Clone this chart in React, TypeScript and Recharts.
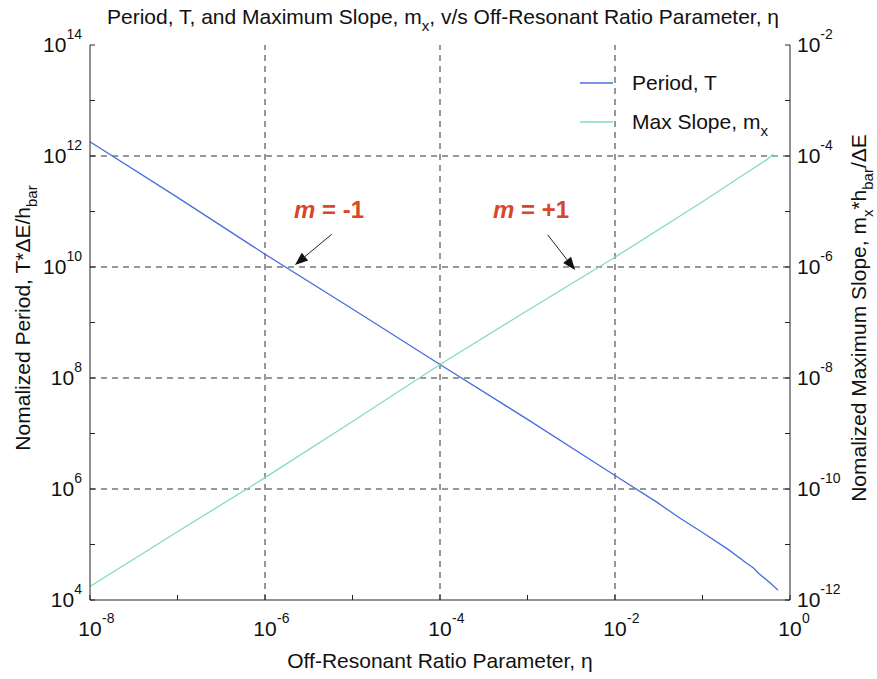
import { LineChart, Line, XAxis, YAxis, ReferenceLine, ReferenceDot } from "recharts";

const FONT = "'Liberation Sans', Arial, Helvetica, sans-serif";
const AXIS = "#222";
const BLUE = "#4a6ee0";
const GREEN = "#80dcc2";
const RED = "#d9472a";

// decade ticks on each axis; labels only on every other decade
const xTicks = [1e-8, 1e-7, 1e-6, 1e-5, 1e-4, 1e-3, 1e-2, 1e-1, 1];
const xLabels = [1e-8, 1e-6, 1e-4, 1e-2, 1];
const leftTicks = [1e4, 1e5, 1e6, 1e7, 1e8, 1e9, 1e10, 1e11, 1e12, 1e13, 1e14];
const leftLabels = [1e4, 1e6, 1e8, 1e10, 1e12, 1e14];
const rightTicks = [1e-12, 1e-11, 1e-10, 1e-9, 1e-8, 1e-7, 1e-6, 1e-5, 1e-4, 1e-3, 1e-2];
const rightLabels = [1e-12, 1e-10, 1e-8, 1e-6, 1e-4, 1e-2];
const gridX = [1e-6, 1e-4, 1e-2];
const gridY = [1e6, 1e8, 1e10, 1e12];

// Period, T (left axis)
const periodEta = [1e-8, 1e-7, 1e-6, 1e-5, 1e-4, 1e-3, 1e-2, 3e-2, 5.5e-2, 0.1, 0.2, 0.32, 0.38, 0.44, 0.6, 0.73];
const periodT = [1.8e12, 1.8e11, 1.7e10, 1.75e9, 1.75e8, 1.8e7, 1.75e6, 5.8e5, 3.0e5, 1.65e5, 8.0e4, 4.6e4, 3.8e4, 3.0e4, 2.0e4, 1.5e4];

// Max slope, m_x (right axis)
const slopeEta = [1e-8, 1e-7, 1e-6, 1e-5, 1e-4, 1e-3, 1e-2, 0.1, 0.3, 0.55, 0.63, 0.73];
const slopeM = [1.75e-12, 1.7e-11, 1.6e-10, 1.65e-9, 1.75e-8, 1.65e-7, 1.5e-6, 1.5e-5, 4.7e-5, 8.7e-5, 1.05e-4, 9.6e-5];

// annotations: label position and arrow (start -> tip), in data units
const notes = [
  { text: "-1", labelEta: 5.4e-6, labelT: 1.06e11, fromEta: 5.8e-6, fromT: 3.9e10, toEta: 2.2e-6, toT: 1.09e10 },
  { text: "+1", labelEta: 1.1e-3, labelT: 1.06e11, fromEta: 1.7e-3, fromT: 3.8e10, toEta: 3.5e-3, toT: 8.8e9 },
];

const periodData = periodEta.map((eta, i) => ({ eta, T: periodT[i] }));
const slopeData = slopeEta.map((eta, i) => ({ eta, m: slopeM[i] }));

const exp = (v: number) => String(Math.round(Math.log10(v)));

function BottomTick({ x, y, payload }: any) {
  const v = payload.value;
  return (
    <g>
      <line x1={x} x2={x} y1={y} y2={y - 5} stroke={AXIS} />
      {xLabels.includes(v) && (
        <g fontFamily={FONT} fill="#111">
          <text x={x} y={y + 36} fontSize={21} textAnchor="middle">10</text>
          <text x={x + 12} y={y + 23} fontSize={14}>{exp(v)}</text>
        </g>
      )}
    </g>
  );
}

function TopTick({ x, y }: any) {
  return <line x1={x} x2={x} y1={y} y2={y + 5} stroke={AXIS} />;
}

function LeftTick({ x, y, payload }: any) {
  const v = payload.value;
  return (
    <g>
      <line x1={x} x2={x + 5} y1={y} y2={y} stroke={AXIS} />
      {leftLabels.includes(v) && (
        <text x={x - 8} y={y + 7} fontFamily={FONT} fill="#111" textAnchor="end">
          <tspan fontSize={21}>10</tspan>
          <tspan fontSize={14} dy={-13}>{exp(v)}</tspan>
        </text>
      )}
    </g>
  );
}

function RightTick({ x, y, payload }: any) {
  const v = payload.value;
  return (
    <g>
      <line x1={x} x2={x - 5} y1={y} y2={y} stroke={AXIS} />
      {rightLabels.includes(v) && (
        <text x={x + 7} y={y + 7} fontFamily={FONT} fill="#111">
          <tspan fontSize={21}>10</tspan>
          <tspan fontSize={14} dy={-13}>{exp(v)}</tspan>
        </text>
      )}
    </g>
  );
}

function Arrow({ x1, y1, x2, y2 }: any) {
  const a = Math.atan2(y2 - y1, x2 - x1);
  const len = 13;
  const w = 5;
  const bx = x2 - len * Math.cos(a);
  const by = y2 - len * Math.sin(a);
  const px = -Math.sin(a) * w;
  const py = Math.cos(a) * w;
  return (
    <g>
      <line x1={x1} y1={y1} x2={bx} y2={by} stroke="#222" strokeWidth={1} />
      <polygon points={`${x2},${y2} ${bx + px},${by + py} ${bx - px},${by - py}`} fill="#111" />
    </g>
  );
}

function NoteLabel(text: string) {
  return ({ cx, cy }: any) => (
    <text x={cx} y={cy + 8} textAnchor="middle" fontFamily={FONT} fontWeight="bold" fontSize={24} fill={RED}>
      <tspan fontStyle="italic">m</tspan>
      <tspan> = {text}</tspan>
    </text>
  );
}

export default function App() {
  return (
    <div style={{ position: "absolute", left: 0, top: 0, width: 877, height: 679, background: "#fff" }}>
      <LineChart width={877} height={679} margin={{ top: 45, right: 0, bottom: 0, left: 0 }}>
        <XAxis
          xAxisId="b"
          dataKey="eta"
          type="number"
          scale="log"
          domain={[1e-8, 1]}
          ticks={xTicks}
          interval={0}
          height={79}
          tickSize={0}
          tickMargin={0}
          tick={<BottomTick />}
          stroke={AXIS}
          allowDataOverflow
        />
        <XAxis
          xAxisId="t"
          orientation="top"
          dataKey="eta"
          type="number"
          scale="log"
          domain={[1e-8, 1]}
          ticks={xTicks}
          interval={0}
          height={0}
          tickSize={0}
          tickMargin={0}
          tick={<TopTick />}
          stroke={AXIS}
          allowDataOverflow
        />
        <YAxis
          yAxisId="l"
          type="number"
          scale="log"
          domain={[1e4, 1e14]}
          ticks={leftTicks}
          interval={0}
          width={90}
          tickSize={0}
          tickMargin={0}
          tick={<LeftTick />}
          stroke={AXIS}
          allowDataOverflow
        />
        <YAxis
          yAxisId="r"
          orientation="right"
          type="number"
          scale="log"
          domain={[1e-12, 1e-2]}
          ticks={rightTicks}
          interval={0}
          width={87}
          tickSize={0}
          tickMargin={0}
          tick={<RightTick />}
          stroke={AXIS}
          allowDataOverflow
        />
        {gridX.map((v) => (
          <ReferenceLine key={"gx" + v} xAxisId="b" yAxisId="l" x={v} stroke="#333" strokeDasharray="6 5" />
        ))}
        {gridY.map((v) => (
          <ReferenceLine key={"gy" + v} xAxisId="b" yAxisId="l" y={v} stroke="#333" strokeDasharray="6 5" />
        ))}
        <Line
          xAxisId="b"
          yAxisId="l"
          data={periodData}
          dataKey="T"
          stroke={BLUE}
          strokeWidth={1.3}
          dot={false}
          isAnimationActive={false}
        />
        <Line
          xAxisId="b"
          yAxisId="r"
          data={slopeData}
          dataKey="m"
          stroke={GREEN}
          strokeWidth={1.3}
          dot={false}
          isAnimationActive={false}
        />
        {notes.map((n) => (
          <ReferenceLine
            key={"a" + n.text}
            xAxisId="b"
            yAxisId="l"
            segment={[{ x: n.fromEta, y: n.fromT }, { x: n.toEta, y: n.toT }]}
            shape={<Arrow />}
          />
        ))}
        {notes.map((n) => (
          <ReferenceDot
            key={"n" + n.text}
            xAxisId="b"
            yAxisId="l"
            x={n.labelEta}
            y={n.labelT}
            r={0}
            shape={NoteLabel(n.text)}
          />
        ))}
      </LineChart>
      <svg
        width={877}
        height={679}
        style={{ position: "absolute", left: 0, top: 0, pointerEvents: "none" }}
        fontFamily={FONT}
        fill="#111"
      >
        <text x={443} y={24} fontSize={21} textAnchor="middle">
          <tspan>Period, T, and Maximum Slope, m</tspan>
          <tspan fontSize={15} dy={7}>x</tspan>
          <tspan dy={-7}>, v/s Off-Resonant Ratio Parameter, η</tspan>
        </text>
        <text x={440} y={668} fontSize={21} textAnchor="middle">
          Off-Resonant Ratio Parameter, η
        </text>
        <text x={30} y={318} fontSize={21} textAnchor="middle" transform="rotate(-90 30 318)">
          <tspan>Nomalized Period, T*ΔE/h</tspan>
          <tspan fontSize={15} dy={7}>bar</tspan>
        </text>
        <text x={866} y={318} fontSize={21} textAnchor="middle" transform="rotate(-90 866 318)">
          <tspan>Nomalized Maximum Slope, m</tspan>
          <tspan fontSize={15} dy={7}>x</tspan>
          <tspan dy={-7}>*h</tspan>
          <tspan fontSize={15} dy={7}>bar</tspan>
          <tspan dy={-7}>/ΔE</tspan>
        </text>
        <line x1={580} x2={613} y1={83} y2={83} stroke={BLUE} strokeWidth={1.3} />
        <text x={632} y={90} fontSize={21}>Period, T</text>
        <line x1={580} x2={613} y1={122} y2={122} stroke={GREEN} strokeWidth={1.3} />
        <text x={632} y={129} fontSize={21}>
          <tspan>Max Slope, m</tspan>
          <tspan fontSize={15} dy={7}>x</tspan>
        </text>
      </svg>
    </div>
  );
}
